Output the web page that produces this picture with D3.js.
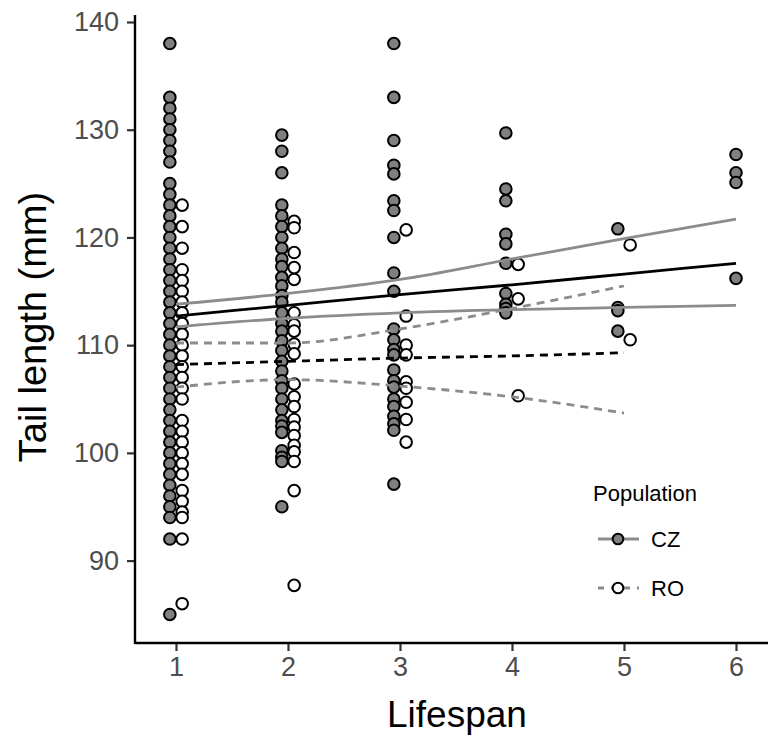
<!DOCTYPE html>
<html>
<head>
<meta charset="utf-8">
<script src="https://cdn.jsdelivr.net/npm/d3@7"></script>
<style>
  body { margin: 0; background: #fff; }
  text { font-family: "Liberation Sans", Arial, sans-serif; }
</style>
</head>
<body>
<svg></svg>
<script>
// tail lengths (mm) read per lifespan class
let czL1 = [138, 133, 132, 131, 130, 129, 128, 127, 125, 124, 123, 122, 121, 120, 119, 118, 117, 116, 115, 114, 113, 112,
            111, 110, 109, 108, 107, 106, 105, 104, 103, 102, 101, 100, 99, 98, 97, 96, 95, 94, 92, 85]
let czL2 = [129.5, 128, 126, 123, 122, 121, 120, 119, 118, 117.3, 116.3, 115.5, 114.6, 114, 113, 112, 111.3, 110.4,
            109.5, 108.5, 107.6, 106.7, 106, 105, 104, 103, 102.5, 101.9, 100.2, 99.6, 99.2, 95]
let czL3 = [138, 133, 129, 126.7, 125.9, 123.4, 122.5, 120, 116.7, 115, 111.5, 110.5, 109.6, 109.1, 107.7, 106.7,
            106.1, 105, 104.3, 103.4, 102.7, 102.1, 97.1]
let czL4 = [129.7, 124.5, 123.4, 120.3, 119.4, 117.6, 114.8, 113.8, 113.4, 113]
let czL5 = [120.8, 113.5, 113.2, 111.3]
let czL6 = [127.7, 126, 125.1, 116.2]

let roL1 = [123, 121, 119, 117, 116, 115, 114, 113, 112, 111, 110, 109, 108, 107, 106, 105, 103, 102, 101, 100, 99, 98,
            96.5, 95.5, 94.5, 94, 92, 86]
let roL2 = [121.5, 120.9, 118.6, 117.2, 116.1, 113, 111.9, 111.3, 110.1, 109.2, 106.4, 105.2, 104.3, 103.1, 102.4,
            101.6, 100.7, 100.1, 99.2, 96.5, 87.7]
let roL3 = [120.7, 112.7, 110, 109.1, 106.6, 106, 104.7, 103.1, 101]
let roL4 = [117.5, 114.3, 105.3]
let roL5 = [119.3, 110.5]

// regression fits and confidence limits at each lifespan
let czX = [1, 2, 3, 4, 5, 6]
let czFit = [112.7, 113.7, 114.7, 115.6, 116.6, 117.6]
let czUpper = [113.8, 114.8, 116.1, 118.0, 119.9, 121.7]
let czLower = [111.7, 112.5, 113.0, 113.3, 113.5, 113.7]

let roX = [1, 2, 3, 4, 5]
let roFit = [108.2, 108.5, 108.8, 109.0, 109.3]
let roUpper = [110.2, 110.2, 111.5, 113.4, 115.5]
let roLower = [106.1, 106.8, 106.2, 105.2, 103.7]

let xTicks = [1, 2, 3, 4, 5, 6]
let yTicks = [90, 100, 110, 120, 130, 140]

let w = 768
let h = 742
let dodge = 0.055

let svg = d3.select('svg').attr('width', w).attr('height', h)

let xScale = d3.scaleLinear().domain([1, 6]).range([176, 736])
let yScale = d3.scaleLinear().domain([82.35, 140.65]).range([643, 15])

let points = []
let czCols = [czL1, czL2, czL3, czL4, czL5, czL6]
let roCols = [roL1, roL2, roL3, roL4, roL5]
czCols.forEach((col, i) => {
    // lifespan 6 has no RO birds, so it is not dodged
    let off = i < roCols.length ? -dodge : 0
    col.forEach(v => points.push({ x: i + 1 + off, y: v, pop: 'CZ' }))
})
roCols.forEach((col, i) => {
    col.forEach(v => points.push({ x: i + 1 + dodge, y: v, pop: 'RO' }))
})

// axes
let xAxis = d3.axisBottom(xScale).tickValues(xTicks).tickFormat(d3.format('d')).tickSize(8).tickPadding(6)
let gx = svg.append('g')
    .attr('transform', 'translate(0,643)')
    .call(xAxis)
gx.select('.domain').remove()
gx.append('line').attr('x1', 135).attr('x2', 768).attr('y1', 0).attr('y2', 0)
    .attr('stroke', '#000').attr('stroke-width', 2.4)

let yAxis = d3.axisLeft(yScale).tickValues(yTicks).tickSize(8).tickPadding(8)
let gy = svg.append('g')
    .attr('transform', 'translate(135,0)')
    .call(yAxis)
gy.select('.domain').remove()
gy.append('line').attr('x1', 0).attr('x2', 0).attr('y1', 15).attr('y2', 644)
    .attr('stroke', '#000').attr('stroke-width', 2.4)

svg.selectAll('.tick line').attr('stroke', '#333').attr('stroke-width', 2.2)
svg.selectAll('.tick text')
    .attr('fill', '#4d4d4d')
    .style('font-size', '27px')

gx.selectAll('.tick text').attr('dy', '0.72em')

svg.append('text')
    .attr('x', 457).attr('y', 727)
    .attr('text-anchor', 'middle')
    .style('font-size', '37px')
    .text('Lifespan')

svg.append('text')
    .attr('transform', 'translate(46,327) rotate(-90)')
    .attr('text-anchor', 'middle')
    .style('font-size', '38px')
    .text('Tail length (mm)')

// points
svg.append('g').selectAll('circle')
    .data(points)
    .enter()
    .append('circle')
    .attr('cx', d => xScale(d.x))
    .attr('cy', d => yScale(d.y))
    .attr('r', 5.8)
    .attr('fill', d => d.pop === 'CZ' ? '#808080' : '#fff')
    .attr('stroke', '#000')
    .attr('stroke-width', 2)

// fitted lines
let makeLine = (xs, ys) => d3.line()
    .x((d, i) => xScale(xs[i]))
    .y(d => yScale(d))
    .curve(d3.curveMonotoneX)(ys)

let lines = [
    { xs: czX, ys: czUpper, col: '#8c8c8c', dash: null },
    { xs: czX, ys: czLower, col: '#8c8c8c', dash: null },
    { xs: czX, ys: czFit, col: '#000', dash: null },
    { xs: roX, ys: roUpper, col: '#8c8c8c', dash: '8,6' },
    { xs: roX, ys: roLower, col: '#8c8c8c', dash: '8,6' },
    { xs: roX, ys: roFit, col: '#000', dash: '8,6' }
]
lines.forEach(l => {
    svg.append('path')
        .attr('d', makeLine(l.xs, l.ys))
        .attr('fill', 'none')
        .attr('stroke', l.col)
        .attr('stroke-width', 2.8)
        .attr('stroke-dasharray', l.dash)
})

// legend
let legend = svg.append('g')
legend.append('text')
    .attr('x', 593).attr('y', 501)
    .style('font-size', '22px')
    .text('Population')

let keys = [
    { name: 'CZ', y: 539, fill: '#808080', dash: null },
    { name: 'RO', y: 588, fill: '#fff', dash: '6,7' }
]
keys.forEach(k => {
    legend.append('line')
        .attr('x1', 598).attr('x2', 639)
        .attr('y1', k.y).attr('y2', k.y)
        .attr('stroke', '#8c8c8c')
        .attr('stroke-width', 2.8)
        .attr('stroke-dasharray', k.dash)
    legend.append('circle')
        .attr('cx', 618).attr('cy', k.y).attr('r', 5.3)
        .attr('fill', k.fill)
        .attr('stroke', '#000')
        .attr('stroke-width', 2)
    legend.append('text')
        .attr('x', 651).attr('y', k.y + 8)
        .style('font-size', '22px')
        .text(k.name)
})
</script>
</body>
</html>
